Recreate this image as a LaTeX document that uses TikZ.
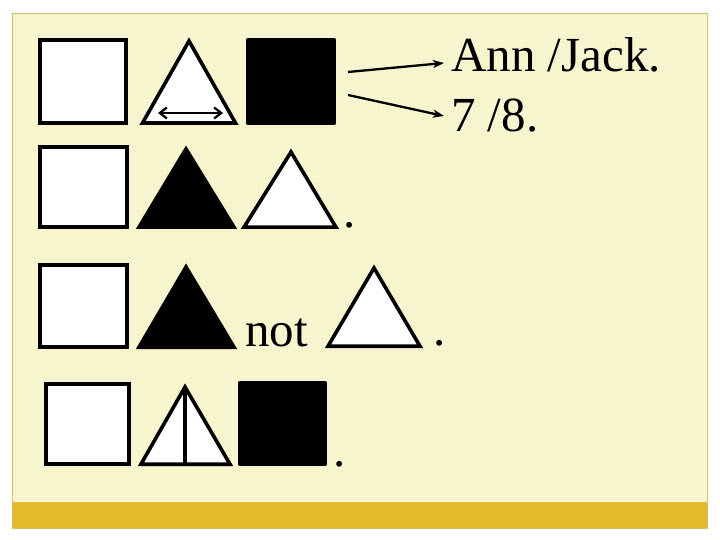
\documentclass[tikz,border=0pt]{standalone}
\usepackage{fontspec}
\setmainfont{Liberation Serif}
\usetikzlibrary{arrows.meta}
\definecolor{panel}{RGB}{247,243,201}
\definecolor{gridc}{RGB}{250,247,215}
\definecolor{gold}{RGB}{227,186,44}
\definecolor{rim}{RGB}{214,192,112}
\tikzset{
  shp/.style={line width=3.6pt, line join=miter, draw=black},
  wfill/.style={shp, fill=white},
  bfill/.style={shp, fill=black},
  lbl/.style={anchor=base west, inner sep=0pt, font=\fontsize{49}{52}\selectfont},
  ptr/.style={line width=2.3pt, -{Stealth[length=11pt,width=8pt,inset=3pt]}},
}
\begin{document}
\begin{tikzpicture}[x=1pt,y=-1pt]
\useasboundingbox (0,0) rectangle (720,540);
\fill[white] (0,0) rectangle (720,540);
% panel
\fill[panel] (12,13) rectangle (707,528);
\begin{scope}
\clip (12,13) rectangle (707,502);
\draw[gridc, line width=0.6pt] (12,13) grid[step=4pt] (707,502);
\end{scope}
\fill[gold] (12,502) rectangle (707,528);
\draw[rim, line width=0.8pt] (12,13) rectangle (707,528);

% row 1
\draw[wfill] (39.8,39.8) rectangle (126.2,123.2);
\draw[wfill] (189,41) -- (235.5,123) -- (142.5,123) -- cycle;
\coordinate (dl) at (158,113);
\coordinate (dr) at (223,113);
\draw[line width=2.3pt, {Straight Barb[length=7pt,width=11pt]}-{Straight Barb[length=7pt,width=11pt]}] (dl) -- (dr);
\draw[bfill, line join=round] (247.8,39.8) rectangle (334.2,123.2);
\node[lbl] (ann) at (451,72) {Ann /Jack.};
\node[lbl] (num) at (451,132) {7 /8.};
\coordinate (s1) at (348,72);
\coordinate (s2) at (348,95);
\coordinate (e1) at (444,63);
\coordinate (e2) at (444,116);
\draw[ptr] (s1) -- (e1);
\draw[ptr] (s2) -- (e2);

% row 2
\draw[wfill] (39.8,146.8) rectangle (127.2,227.2);
\draw[bfill] (186,149) -- (234,227.2) -- (139,227.2) -- cycle;
\draw[wfill] (291,152) -- (336,227.2) -- (244,227.2) -- cycle;
\node[lbl] (d2) at (343,227) {.};

% row 3
\draw[wfill] (39.8,264.8) rectangle (127.2,347.2);
\draw[bfill] (186,267) -- (234,347.2) -- (139,347.2) -- cycle;
\node[lbl] (not) at (245,346) {not};
\draw[wfill] (374,268) -- (420,346.2) -- (328,346.2) -- cycle;
\node[lbl] (d3) at (433,345) {.};

% row 4
\draw[wfill] (45.8,383.8) rectangle (129.2,464.2);
\draw[wfill] (185,387) -- (230,464.2) -- (141,464.2) -- cycle;
\draw[line width=3.6pt] (185,387) -- (185,464.2);
\draw[bfill, line join=round] (239.8,382.8) rectangle (325.2,464.2);
\node[lbl] (d4) at (333,466) {.};
\end{tikzpicture}
\end{document}
